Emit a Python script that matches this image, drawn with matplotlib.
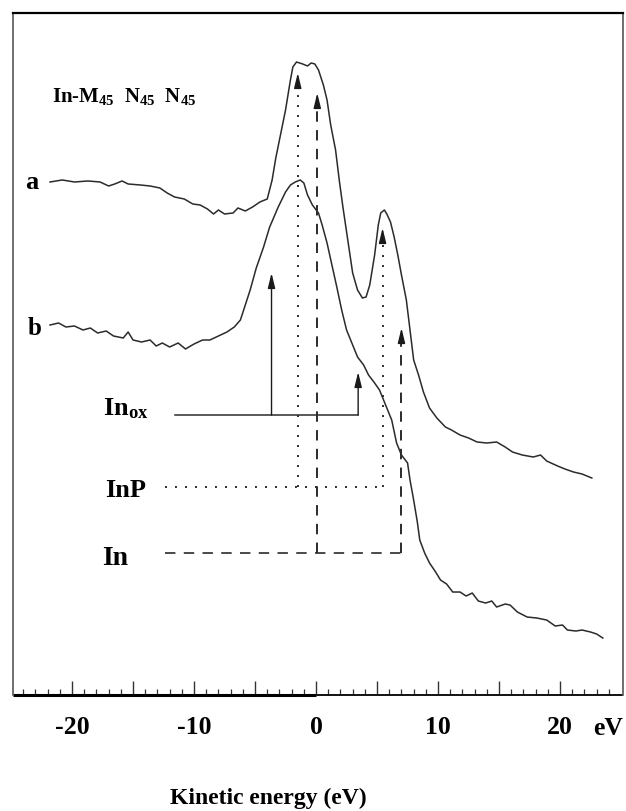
# In-MNN Auger spectra (a, b) with In / InP / In_ox peak markers
import matplotlib
matplotlib.use('Agg')
import matplotlib.pyplot as plt
import numpy as np

plt.rcParams['font.family'] = ['Liberation Serif', 'DejaVu Serif']
plt.rcParams['font.weight'] = 'bold'
plt.rcParams['mathtext.fontset'] = 'custom'
plt.rcParams['mathtext.rm'] = 'Liberation Serif:bold'
plt.rcParams['mathtext.bf'] = 'Liberation Serif:bold'
plt.rcParams['mathtext.it'] = 'Liberation Serif:bold'
plt.rcParams['mathtext.default'] = 'bf'
plt.rcParams['axes.unicode_minus'] = False
plt.rcParams['lines.scale_dashes'] = False

# spectrum a (kinetic energy in eV, intensity in arb. units)
e_a = [-21.8, -20.8, -19.8, -18.7, -17.7, -17.0, -16.5, -15.9, -15.4, -14.4,
       -13.6, -12.8, -12.2, -11.6, -10.8, -10.1, -9.5, -8.9, -8.4, -8.0,
       -7.5, -6.8, -6.4, -5.8, -5.2, -4.6, -4.0, -3.6, -3.3, -3.0,
       -2.5, -2.1, -1.9, -1.6, -1.1, -0.7, -0.4, -0.1, 0.2, 0.6,
       0.9, 1.2, 1.6, 1.9, 2.2, 2.6, 3.0, 3.4, 3.8, 4.1,
       4.4, 4.8, 5.1, 5.3, 5.6, 5.8, 6.1, 6.4, 6.7, 7.0,
       7.4, 7.7, 8.0, 8.4, 8.8, 9.3, 9.9, 10.6, 11.1, 11.8,
       12.5, 13.2, 14.0, 14.8, 15.5, 16.1, 16.9, 17.8, 18.4, 18.9,
       19.8, 20.4, 21.1, 21.8, 22.6]
i_a = [531, 533, 531, 532, 531, 527, 529, 532, 529, 528,
       527, 525, 520, 516, 514, 509, 508, 504, 499, 503,
       499, 500, 505, 502, 506, 511, 514, 533, 555, 573,
       603, 633, 646, 651, 649, 647, 650, 649, 643, 628,
       613, 588, 563, 533, 506, 473, 440, 423, 415, 416,
       428, 458, 488, 500, 503, 499, 491, 476, 458, 438,
       413, 383, 353, 338, 321, 305, 295, 286, 283, 278,
       275, 271, 270, 271, 266, 261, 258, 256, 258, 252,
       247, 244, 241, 239, 235]

# spectrum b
e_b = [-21.8, -21.1, -20.5, -19.8, -19.1, -18.5, -17.9, -17.2, -16.6, -15.8,
       -15.4, -15.0, -14.3, -13.6, -13.1, -12.6, -12.0, -11.3, -10.7, -10.0,
       -9.3, -8.7, -8.0, -7.3, -6.7, -6.2, -5.8, -5.4, -4.9, -4.3,
       -3.8, -3.1, -2.5, -2.1, -1.7, -1.3, -1.0, -0.7, -0.3, 0.2,
       0.5, 0.9, 1.3, 1.7, 2.1, 2.5, 3.0, 3.4, 3.9, 4.3,
       4.8, 5.2, 5.7, 6.2, 6.6, 7.0, 7.5, 7.7, 8.0, 8.3,
       8.5, 8.9, 9.3, 9.8, 10.2, 10.7, 11.2, 11.8, 12.3, 12.8,
       13.3, 13.9, 14.4, 14.8, 15.5, 15.9, 16.5, 17.3, 18.1, 18.9,
       19.6, 20.2, 20.6, 21.3, 21.8, 22.5, 23.0, 23.5]
i_b = [388, 390, 386, 387, 383, 385, 380, 382, 377, 375,
       381, 373, 371, 373, 367, 370, 366, 370, 364, 369,
       373, 373, 377, 381, 386, 393, 408, 423, 445, 466,
       486, 506, 521, 528, 531, 533, 530, 518, 508, 500,
       488, 470, 448, 426, 403, 383, 368, 356, 348, 338,
       330, 323, 308, 293, 270, 258, 250, 233, 213, 191,
       173, 160, 150, 141, 133, 129, 121, 121, 117, 120,
       112, 110, 112, 106, 109, 108, 101, 96, 95, 93,
       87, 88, 83, 82, 83, 81, 79, 75]

# peak markers: energy of each arrow, tip height, level of the horizontal line
inox_x = [-3.65, 3.45]
inox_tip = [440, 341]
inox_level, inox_start = 298, -11.6
inp_x = [-1.5, 5.45]
inp_tip = [640, 485]
inp_level, inp_start = 226, -12.4
in_x = [0.1, 7.0]
in_tip = [620, 385]
in_level, in_start = 160, -12.4

fig = plt.figure(figsize=(6.26, 8.11), dpi=100)
ax = fig.add_axes([0.0203, 0.143, 0.975, 0.841])

lc = '#2b2b2b'
ax.plot(e_a, i_a, color=lc, lw=1.1)
ax.plot(e_b, i_b, color=lc, lw=1.1)

head = dict(arrowstyle='-|>,head_length=0.9,head_width=0.22', color='#1a1a1a',
            lw=1.0, shrinkA=0, shrinkB=0)

# In_ox (solid)
ax.plot([inox_start, inox_x[1]], [inox_level, inox_level], color=lc, lw=1.1)
for x, t in zip(inox_x, inox_tip):
    ax.annotate('', xy=(x, t), xytext=(x, inox_level), arrowprops=head)

# InP (dotted)
dot = (0, (1.4, 5.8))
ax.plot([inp_start, inp_x[1]], [inp_level, inp_level], color=lc, lw=1.4, linestyle=dot)
for x, t in zip(inp_x, inp_tip):
    ax.plot([x, x], [inp_level, t - 13], color=lc, lw=1.4, linestyle=dot)
    ax.annotate('', xy=(x, t), xytext=(x, t - 14), arrowprops=head)

# In (dashed)
dash = (0, (7.5, 6.0))
ax.plot([in_start, in_x[1]], [in_level, in_level], color=lc, lw=1.2, linestyle=dash)
for x, t in zip(in_x, in_tip):
    ax.plot([x, x], [in_level, t - 13], color=lc, lw=1.4, linestyle=dash)
    ax.annotate('', xy=(x, t), xytext=(x, t - 14), arrowprops=head)

# labels
ax.text(-23.3, 524, 'a', fontsize=19, ha='center', va='baseline')
ax.text(-23.1, 378, 'b', fontsize=18, ha='center', va='baseline')
ax.text(-21.6, 611, r'In-M$_{45}$  N$_{45}$  N$_{45}$', fontsize=15, ha='left', va='baseline')
ax.text(-17.5, 298, r'In$_{ox}$', fontsize=19, ha='left', va='baseline')
ax.text(-17.3, 216, 'InP', fontsize=19, ha='left', va='baseline')
ax.text(-17.5, 148, 'In', fontsize=20, ha='left', va='baseline')

ax.set_xlim(-24.86, 25.16)
ax.set_ylim(18, 700)
ax.set_xticks([-20, -15, -10, -5, 0, 5, 10, 15, 20])
ax.set_xticks(np.arange(-24, 25, 1), minor=True)
ax.set_xticklabels(['-20', '', '-10', '', '0', '', '10', '', '20'], fontsize=18.5,
                   fontweight='bold')
ax.set_yticks([])
ax.tick_params(axis='x', which='major', direction='in', length=10, width=1.0,
               color='#333333', pad=15)
ax.tick_params(axis='x', which='minor', direction='in', length=4.5, width=0.9,
               color='#333333')

ax.text(23.9, -0.032, 'eV', transform=ax.get_xaxis_transform(), fontsize=18.5,
        ha='center', va='top')
ax.set_xlabel('Kinetic energy (eV)', fontsize=17, fontweight='bold')
ax.xaxis.set_label_coords(0.418, -0.136)

# bottom axis line: heavy left of zero, lighter to the right
ax.spines['bottom'].set_visible(False)
ax.plot([-24.86, 0], [0, 0], transform=ax.get_xaxis_transform(), color='black',
        lw=2.2, clip_on=False, solid_capstyle='butt')
ax.plot([0, 25.16], [0, 0], transform=ax.get_xaxis_transform(), color='#111111',
        lw=1.4, clip_on=False, solid_capstyle='butt')
ax.spines['top'].set_color('black')
ax.spines['top'].set_linewidth(1.6)
for s in ['left', 'right']:
    ax.spines[s].set_color('#555555')
    ax.spines[s].set_linewidth(1.2)

fig.savefig('out.png', dpi=100)
